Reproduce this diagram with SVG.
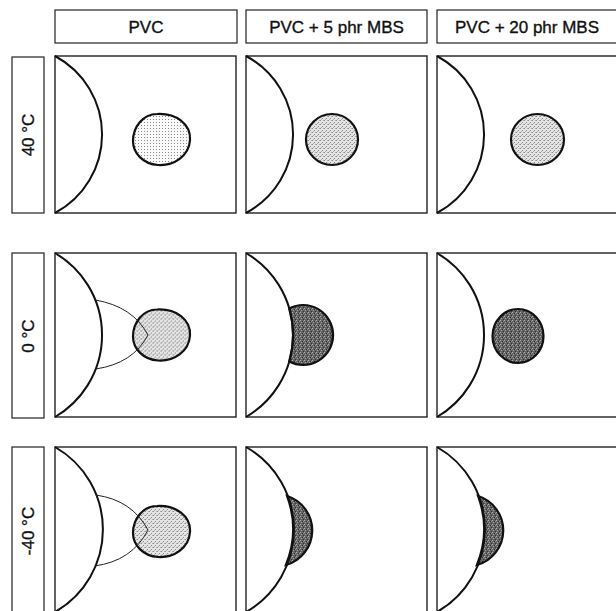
<svg xmlns="http://www.w3.org/2000/svg" width="616" height="611" viewBox="0 0 616 611">
  <style>
    .box { fill: #fff; stroke: #222; stroke-width: 1.2; }
    .panel { fill: #fff; stroke: #222; stroke-width: 1.4; }
    .arc { fill: none; stroke: #111; stroke-width: 2; }
    .thin { fill: none; stroke: #222; stroke-width: 1; }
    .part { stroke: #111; stroke-width: 2.2; }
    .label { font-family: "Liberation Sans", Arial, sans-serif; font-size: 17px; fill: #111; stroke: #111; stroke-width: 0.35; text-anchor: middle; }
  </style>
  <defs>
    <!-- sparse dots on white -->
    <pattern id="stip" width="3" height="3" patternUnits="userSpaceOnUse">
      <rect width="3" height="3" fill="#fafafa"/>
      <rect x="1" y="1" width="1" height="1" fill="#8a8a8a"/>
    </pattern>
    <!-- denser grey grain -->
    <pattern id="grain" width="4" height="4" patternUnits="userSpaceOnUse">
      <rect width="4" height="4" fill="#e4e4e4"/>
      <rect x="0" y="0" width="1" height="1" fill="#8c8c8c"/>
      <rect x="2" y="2" width="1" height="1" fill="#8c8c8c"/>
      <rect x="3" y="0" width="1" height="1" fill="#b0b0b0"/>
      <rect x="1" y="3" width="1" height="1" fill="#b0b0b0"/>
    </pattern>
    <!-- dark speckled fill -->
    <pattern id="dark" width="4" height="4" patternUnits="userSpaceOnUse">
      <rect width="4" height="4" fill="#646464"/>
      <rect x="0" y="0" width="1" height="1" fill="#b0b0b0"/>
      <rect x="2" y="1" width="1" height="1" fill="#2a2a2a"/>
      <rect x="1" y="2" width="1" height="1" fill="#a0a0a0"/>
      <rect x="3" y="3" width="1" height="1" fill="#333"/>
      <rect x="3" y="1" width="1" height="1" fill="#909090"/>
    </pattern>
    <!-- egg-shaped particle outline, centred on the origin -->
    <path id="egg" d="M -4,-25 C 15,-26 30,-15 29,1 C 28,17 13,27 -3,26 C -18,25 -28,14 -28,2 C -28,-12 -18,-25 -4,-25 Z"/>
  </defs>

  <!-- column headers -->
  <g id="header-pvc">
    <rect class="box" x="55" y="10" width="182" height="33"/>
    <text class="label" x="146" y="33">PVC</text>
  </g>
  <g id="header-pvc-5">
    <rect class="box" x="246" y="10" width="181" height="33"/>
    <text class="label" x="336.5" y="33">PVC + 5 phr MBS</text>
  </g>
  <g id="header-pvc-20">
    <rect class="box" x="437" y="10" width="181" height="33"/>
    <text class="label" x="527" y="33">PVC + 20 phr MBS</text>
  </g>

  <!-- row labels -->
  <g id="row-40">
    <rect class="box" x="12" y="57" width="32" height="156"/>
    <text class="label" x="34" y="135" transform="rotate(-90 34 135)">40 °C</text>
  </g>
  <g id="row-0">
    <rect class="box" x="12" y="253" width="32" height="165"/>
    <text class="label" x="34" y="336" transform="rotate(-90 34 336)">0 °C</text>
  </g>
  <g id="row-m40">
    <rect class="box" x="12" y="447" width="32" height="165"/>
    <text class="label" x="34" y="531" transform="rotate(-90 34 531)">-40 °C</text>
  </g>

  <!-- row 1: 40 °C -->
  <g id="p-40-pvc">
    <rect class="panel" x="55" y="56" width="181" height="157"/>
    <path class="arc" d="M55,56 A89,89 0 0 1 55,213"/>
    <use href="#egg" class="part" fill="url(#stip)" x="161" y="139"/>
  </g>
  <g id="p-40-5">
    <rect class="panel" x="246" y="56" width="181" height="157"/>
    <path class="arc" d="M246,56 A89,89 0 0 1 246,213"/>
    <ellipse class="part" fill="url(#grain)" cx="332" cy="139.5" rx="26" ry="25.5"/>
  </g>
  <g id="p-40-20">
    <rect class="panel" x="437" y="56" width="181" height="157"/>
    <path class="arc" d="M437,56 A89,89 0 0 1 437,213"/>
    <ellipse class="part" fill="url(#grain)" cx="537.5" cy="139.5" rx="26.5" ry="25.5"/>
  </g>

  <!-- row 2: 0 °C -->
  <g id="p-0-pvc">
    <rect class="panel" x="55" y="253" width="181" height="164"/>
    <path class="arc" d="M55,253 A95,95 0 0 1 55,417"/>
    <use href="#egg" class="part" fill="url(#grain)" x="161" y="334.5"/>
    <path class="thin" d="M95.3,300 Q133,306.5 148,335 Q133,363.5 95.7,369"/>
  </g>
  <g id="p-0-5">
    <rect class="panel" x="246" y="253" width="181" height="164"/>
    <path class="part" fill="url(#dark)" d="M289.2,308.4 A30,30 0 1 1 289.2,361.6 A95,95 0 0 0 289.2,308.4 Z"/>
    <path class="arc" d="M246,253 A95,95 0 0 1 246,417"/>
  </g>
  <g id="p-0-20">
    <rect class="panel" x="437" y="253" width="181" height="164"/>
    <path class="arc" d="M437,253 A95,95 0 0 1 437,417"/>
    <ellipse class="part" fill="url(#dark)" cx="518" cy="336" rx="25.5" ry="27"/>
  </g>

  <!-- row 3: -40 °C -->
  <g id="p-m40-pvc">
    <rect class="panel" x="55" y="447" width="181" height="165"/>
    <path class="arc" d="M55,447 A95,95 0 0 1 55,612"/>
    <use href="#egg" class="part" fill="url(#grain)" x="161" y="531"/>
    <path class="thin" d="M95.7,495 Q132,500 148,530 Q132,561 94.5,566"/>
  </g>
  <g id="p-m40-5">
    <rect class="panel" x="246" y="447" width="181" height="165"/>
    <path class="part" fill="url(#dark)" d="M287.1,496 A36,36 0 0 1 285.9,565 A95,95 0 0 0 287.1,496 Z"/>
    <path class="arc" d="M246,447 A95,95 0 0 1 246,612"/>
  </g>
  <g id="p-m40-20">
    <rect class="panel" x="437" y="447" width="181" height="165"/>
    <path class="part" fill="url(#dark)" d="M478.1,496 A36,36 0 0 1 476.9,565 A95,95 0 0 0 478.1,496 Z"/>
    <path class="arc" d="M437,447 A95,95 0 0 1 437,612"/>
  </g>
</svg>
